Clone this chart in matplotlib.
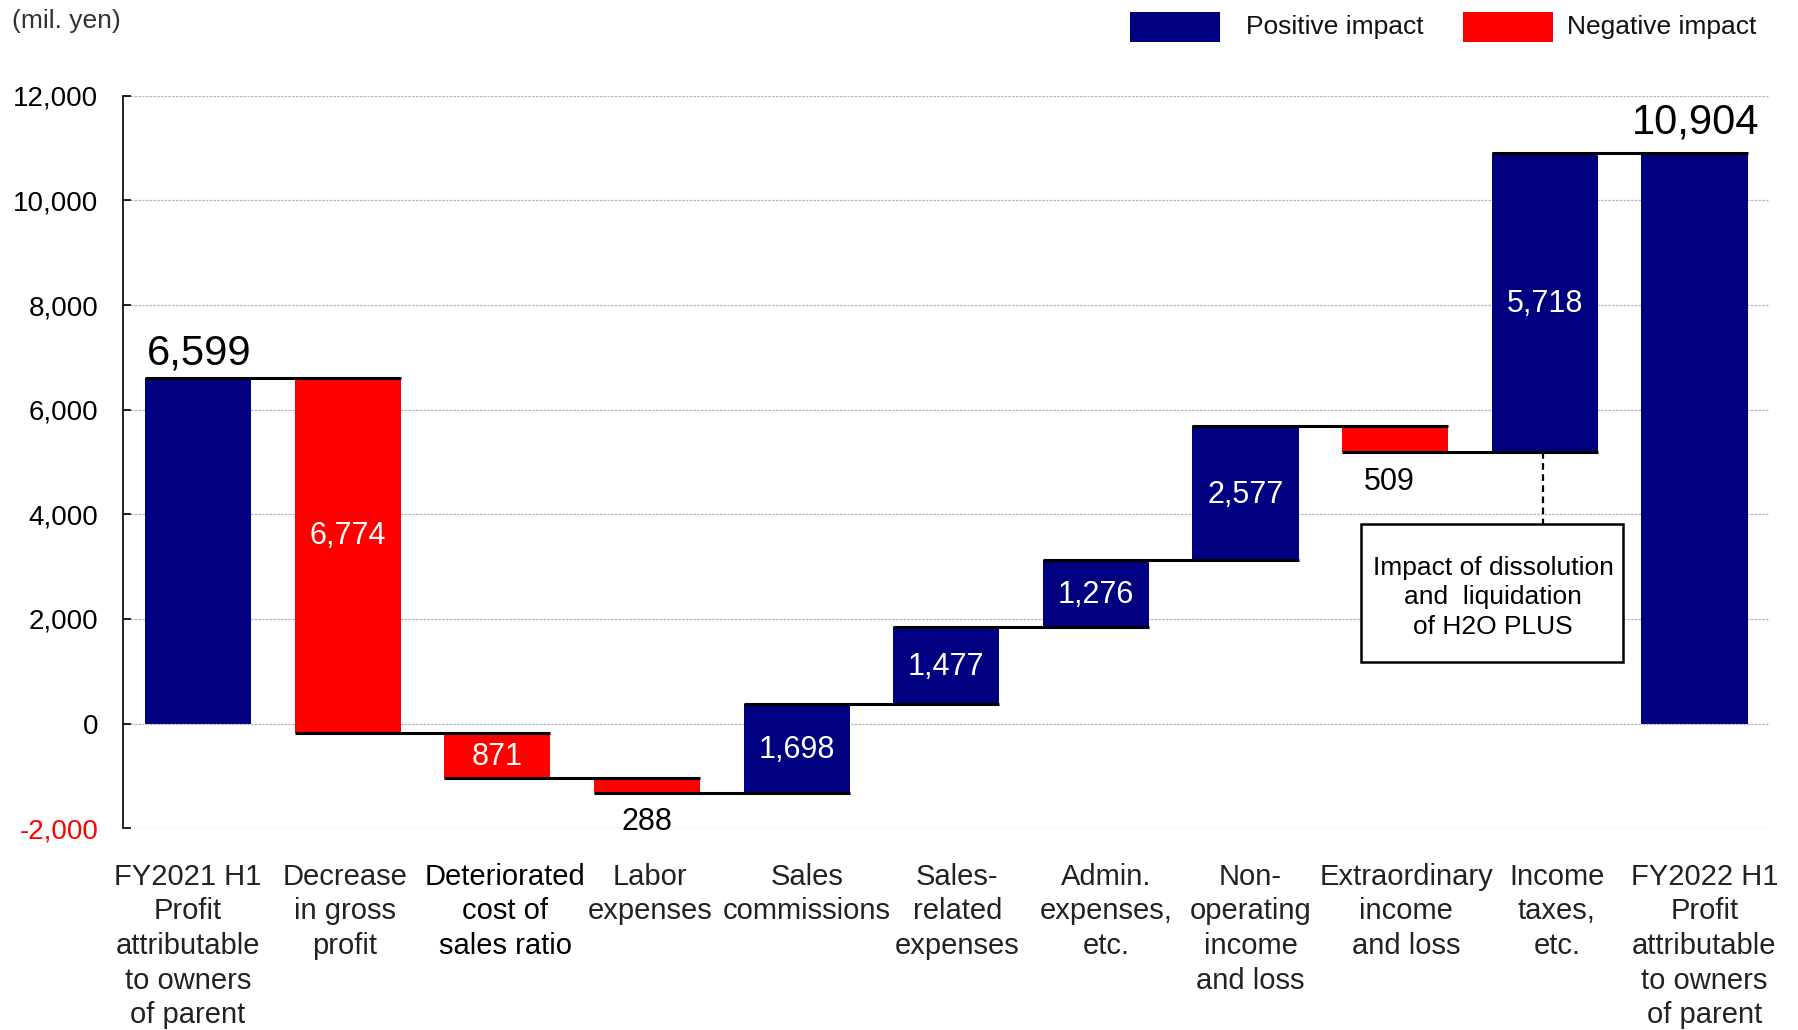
import matplotlib
matplotlib.use('Agg')
import matplotlib.pyplot as plt
from matplotlib.patches import Rectangle
from matplotlib.ticker import FuncFormatter
from matplotlib.transforms import ScaledTranslation

plt.rcParams['font.family'] = ['Liberation Sans', 'DejaVu Sans']

# ---------------- data ----------------
categories = [
    "FY2021 H1\nProfit\nattributable\nto owners\nof parent",
    "Decrease\nin gross\nprofit",
    "Deteriorated\ncost of\nsales ratio",
    "Labor\nexpenses",
    "Sales\ncommissions",
    "Sales-\nrelated\nexpenses",
    "Admin.\nexpenses,\netc.",
    "Non-\noperating\nincome\nand loss",
    "Extraordinary\nincome\nand loss",
    "Income\ntaxes,\netc.",
    "FY2022 H1\nProfit\nattributable\nto owners\nof parent",
]
changes = [6599, -6774, -871, -288, 1698, 1477, 1276, 2577, -509, 5718, 10904]
is_total = [True, False, False, False, False, False, False, False, False, False, True]
value_labels = ["6,599", "6,774", "871", "288", "1,698", "1,477", "1,276",
                "2,577", "509", "5,718", "10,904"]
yticks = [-2000, 0, 2000, 4000, 6000, 8000, 10000, 12000]
legend_labels = ["Positive impact", "Negative impact"]
note_text = "Impact of dissolution\nand  liquidation\nof H2O PLUS"

POS = "#000080"
NEG = "#FF0000"

# ---------------- figure ----------------
fig = plt.figure(figsize=(17.99, 10.30), dpi=100)
ax = fig.add_axes([0.0685, 0.196, 0.915, 0.711])

bottoms, tops, ends = [], [], []
level = 0
for ch, tot in zip(changes, is_total):
    if tot:
        b, t = 0, ch
        level = ch
    else:
        new = level + ch
        b, t = min(level, new), max(level, new)
        level = new
    bottoms.append(b)
    tops.append(t)
    ends.append(level)

x = list(range(len(categories)))
width = 0.71
colors = [POS if c > 0 else NEG for c in changes]
ax.bar(x, [t - b for b, t in zip(bottoms, tops)], bottom=bottoms,
       width=width, color=colors, zorder=2)

# connectors
for i in range(len(x) - 1):
    ax.plot([x[i] - width / 2, x[i + 1] + width / 2], [ends[i], ends[i]],
            color='black', lw=2.2, zorder=3, solid_capstyle='butt')

# value labels
for i, lab in enumerate(value_labels):
    mid = (bottoms[i] + tops[i]) / 2
    if i == 0:
        ax.text(x[i] - width / 2 + 0.01, ends[i] + 270, lab, fontsize=30,
                ha='left', va='baseline', color='black', zorder=4)
    elif i == len(x) - 1:
        ax.text(x[i] + width / 2 + 0.08, ends[i] + 370, lab, fontsize=30,
                ha='right', va='baseline', color='black', zorder=4)
    elif i == 3:
        ax.text(x[i], bottoms[i] - 540, lab, fontsize=22, ha='center',
                va='center', color='black', zorder=4)
    elif i == 8:
        ax.text(x[i] - 0.04, bottoms[i] - 560, lab, fontsize=22, ha='center',
                va='center', color='black', zorder=4)
    elif i == 1:
        ax.text(x[i], mid + 370, lab, fontsize=22, ha='center', va='center',
                color='white', zorder=4)
    else:
        ax.text(x[i], mid - 30, lab, fontsize=22, ha='center', va='center',
                color='white', zorder=4)

# annotation box
ax.plot([x[9] - 0.01, x[9] - 0.01], [ends[8], 3812], color='black', lw=1.6,
        ls=(0, (3, 2)), zorder=3)
ax.add_patch(Rectangle((7.77, 1183), 1.755, 2629, facecolor='white',
                       edgecolor='black', lw=1.8, zorder=4))
ax.text(8.655, 2410, note_text, fontsize=19, ha='center', va='center',
        linespacing=1.3, color='black', zorder=5)

# axes styling
ax.set_xlim(-0.5, 10.5)
ax.set_ylim(-2000, 12000)
ax.set_yticks(yticks)
ax.yaxis.set_major_formatter(FuncFormatter(lambda v, p: f"{int(v):,}"))
ax.set_xticks(x)
ax.set_xticklabels(categories, fontsize=21, color='#222222', linespacing=1.3)
ax.tick_params(axis='x', length=0, pad=25)
ax.tick_params(axis='y', direction='in', length=6, width=1.2, labelsize=20,
               pad=18)
for lbl, v in zip(ax.get_yticklabels(), yticks):
    if v < 0:
        lbl.set_color(NEG)
ax.get_xticklabels()[2].set_color('black')

# small horizontal nudges of category labels (inches)
label_dx = [-0.10, -0.03, 0.08, 0.03, 0.10, 0.11, 0.10, 0.05, 0.11, 0.12, 0.10]
for tick, dx in zip(ax.xaxis.get_major_ticks(), label_dx):
    tick.label1.set_transform(tick.label1.get_transform()
                              + ScaledTranslation(dx, 0, fig.dpi_scale_trans))

for s in ['top', 'right', 'bottom']:
    ax.spines[s].set_visible(False)
ax.spines['left'].set_linewidth(1.2)
ax.set_axisbelow(True)
ax.yaxis.grid(True, color='#b5b5b5', linestyle=(0, (2, 1)), linewidth=0.9)

# unit label
fig.text(0.0064, 0.980, "(mil. yen)", fontsize=19, color='#333333',
         ha='left', va='center')

# legend
for xp, xt, col, lab in [(0.628, 0.6925, POS, legend_labels[0]),
                          (0.8131, 0.871, NEG, legend_labels[1])]:
    fig.patches.append(Rectangle((xp, 0.9597), 0.0503, 0.0291,
                                 transform=fig.transFigure, facecolor=col,
                                 edgecolor='none'))
    fig.text(xt, 0.9742, lab, fontsize=19, ha='left', va='center',
             color='#111111')

fig.savefig('out.png', dpi=100)
